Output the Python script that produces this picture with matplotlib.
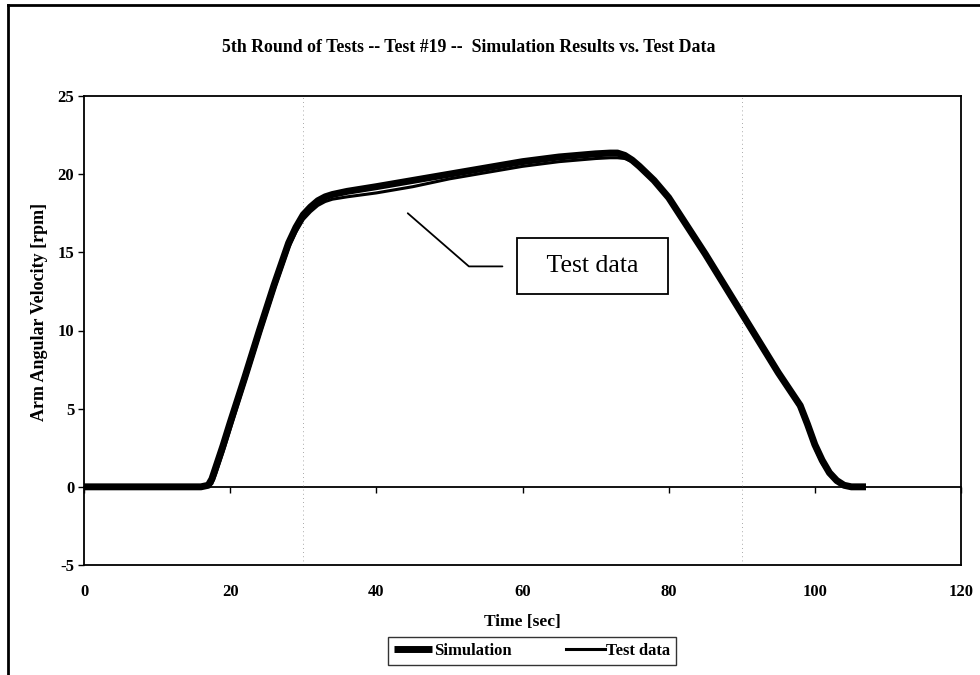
import matplotlib
matplotlib.use("Agg")
import matplotlib.pyplot as plt
from matplotlib.lines import Line2D

plt.rcParams['font.family'] = ['Liberation Serif', 'DejaVu Serif']
plt.rcParams['axes.unicode_minus'] = False

# Simulation curve
sim_t = [0, 10, 16, 17, 17.5, 18, 19, 20, 22, 24, 26, 28, 29, 30, 31, 32, 33, 34, 36,
         40, 45, 50, 55, 60, 65, 70, 72, 73, 74, 75, 76, 78, 80, 85, 90, 95, 97, 98,
         99, 100, 101, 102, 103, 104, 105, 107]
sim_v = [0, 0, 0, 0.1, 0.5, 1.2, 2.6, 4.1, 7.0, 10.0, 12.9, 15.6, 16.6, 17.4, 17.9, 18.3,
         18.55, 18.7, 18.9, 19.2, 19.6, 20.0, 20.4, 20.8, 21.1, 21.3, 21.35, 21.35, 21.2,
         20.9, 20.5, 19.6, 18.5, 14.9, 11.1, 7.3, 5.9, 5.2, 4.0, 2.7, 1.7, 0.9, 0.4, 0.1,
         0, 0]

# Test data curve
test_t = [0, 10, 16.5, 17.5, 18, 19, 20, 22, 24, 26, 28, 29, 30, 31, 32, 33, 34, 36,
          40, 45, 50, 55, 60, 65, 70, 72, 73, 74, 75, 76, 78, 80, 85, 90, 95, 97, 98,
          99, 100, 101, 102, 103, 104, 106]
test_v = [0, 0, 0, 0.2, 0.8, 2.2, 3.7, 6.7, 9.7, 12.6, 15.3, 16.3, 17.1, 17.6, 18.0,
          18.25, 18.4, 18.55, 18.8, 19.2, 19.7, 20.1, 20.5, 20.8, 21.0, 21.05, 21.05,
          21.0, 20.8, 20.4, 19.5, 18.4, 14.8, 11.0, 7.2, 5.8, 5.0, 3.8, 2.5, 1.5, 0.8,
          0.3, 0.05, 0]

x_ticks = [0, 20, 40, 60, 80, 100, 120]
y_ticks = [-5, 0, 5, 10, 15, 20, 25]

fig = plt.figure(figsize=(9.8, 6.75), dpi=100)
ax = fig.add_axes([84 / 980, 110 / 675, 877 / 980, 469 / 675])

# faint scan marks
for xv in (30, 90):
    ax.axvline(xv, color='0.55', lw=0.6, ls=(0, (1, 4)), zorder=1)

ax.plot(sim_t, sim_v, color='black', lw=5, label='Simulation', zorder=3,
        solid_capstyle='butt')
ax.plot(test_t, test_v, color='black', lw=2.2, label='Test data', zorder=4)

ax.set_xlim(0, 120)
ax.set_ylim(-5, 25)
ax.set_xticks(x_ticks)
ax.set_yticks(y_ticks)
ax.tick_params(axis='x', length=0, pad=14, labelsize=12)
ax.tick_params(axis='y', direction='out', length=4, width=1, pad=3, labelsize=12)
for lab in ax.get_xticklabels() + ax.get_yticklabels():
    lab.set_fontweight('bold')
for s in ax.spines.values():
    s.set_linewidth(1.3)

# zero line with ticks, like the Excel category axis
sec = ax.secondary_xaxis(5 / 30)
sec.set_xticks(x_ticks)
sec.tick_params(axis='x', direction='out', length=4, width=1, labelbottom=False)
sec.spines['bottom'].set_linewidth(1.3)

ax.set_xlabel('Time [sec]', fontsize=12.5, fontweight='bold', labelpad=10)
ax.set_ylabel('Arm Angular Velocity [rpm]', fontsize=13, fontweight='bold')
ax.yaxis.set_label_coords(-0.041, 0.54)
fig.text(0.478, 1 - 48 / 675, '5th Round of Tests -- Test #19 --  Simulation Results vs. Test Data',
         ha='center', va='center', fontsize=12.8, fontweight='bold')

ax.annotate('  Test data  ', xy=(44.3, 17.5), xytext=(69.6, 14.1), fontsize=18.5,
            ha='center', va='center',
            bbox=dict(boxstyle='square,pad=0.66', fc='white', ec='black', lw=1.3),
            arrowprops=dict(arrowstyle='-', color='black', lw=1.3, shrinkA=10, shrinkB=0,
                            connectionstyle='angle,angleA=0,angleB=-41,rad=0'))

leg = fig.legend(loc='center', bbox_to_anchor=(532 / 980, 1 - 651 / 675), ncol=2,
                 frameon=True, fancybox=False, edgecolor='black', handlelength=2.3,
                 handletextpad=0.1, columnspacing=3.3, borderpad=0.35,
                 prop={'weight': 'bold', 'size': 12})
leg.get_frame().set_linewidth(1.0)

# page border from the scan
fig.add_artist(Line2D([8 / 980, 8 / 980], [0, 1 - 5 / 675], transform=fig.transFigure,
                      color='black', lw=2))
fig.add_artist(Line2D([8 / 980, 1], [1 - 5 / 675, 1 - 5 / 675], transform=fig.transFigure,
                      color='black', lw=2))

fig.savefig('out.png', dpi=100)
